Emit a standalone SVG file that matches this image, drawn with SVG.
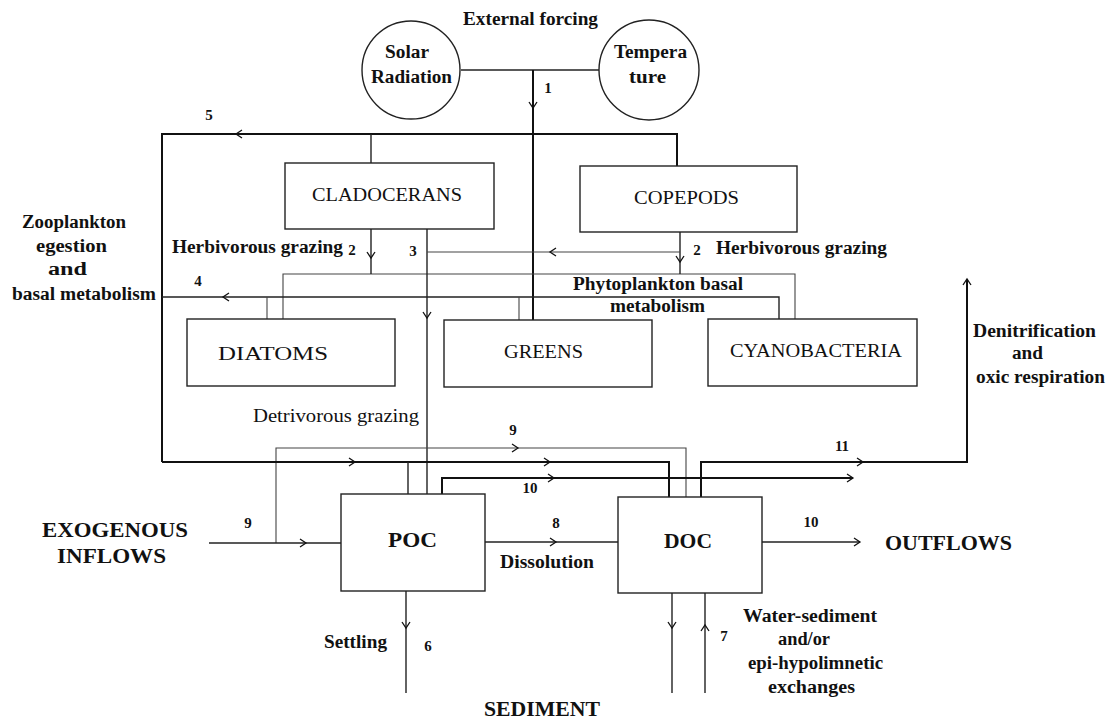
<svg xmlns="http://www.w3.org/2000/svg" xmlns:xlink="http://www.w3.org/1999/xlink" width="1113" height="720" viewBox="0 0 1113 720">
<style>
text{font-family:"Liberation Serif","Times New Roman",serif;fill:#111;}
.b{font-weight:bold;font-size:18px;}
.n{font-weight:bold;font-size:15px;}
.box{font-size:19px;}
.big{font-weight:bold;font-size:22px;}
.c{text-anchor:middle;}
.node rect,.node circle{fill:#fff;stroke:#222;stroke-width:1.4;}
.ln{fill:none;stroke:#222;stroke-width:1.4;}
.lt{fill:none;stroke:#444;stroke-width:1.1;}
.lk{fill:none;stroke:#111;stroke-width:2;}
.ah{fill:none;stroke:#111;stroke-width:1.3;}
</style>
<defs>
<path id="ah" d="M-6,-4 L0,0 L-6,4"/>
</defs>
<rect width="1113" height="720" fill="#fff"/>

<g id="connectors">
<path class="ln" d="M461,70 H599"/>
<path class="lk" d="M533,70 V320"/>
<use href="#ah" class="ah" transform="translate(533,108) rotate(90)"/>
<path class="lk" d="M162,462 V134 H677 V166"/>
<path class="ln" d="M371,134 V163"/>
<use href="#ah" class="ah" transform="translate(236,134) rotate(180)"/>
<path class="lt" d="M283,319 V274 H795 V319"/>
<path class="ln" d="M371,229 V274"/>
<use href="#ah" class="ah" transform="translate(371,258) rotate(90)"/>
<path class="ln" d="M680,232 V274"/>
<use href="#ah" class="ah" transform="translate(680,262) rotate(90)"/>
<path class="ln" d="M427,229 V494"/>
<path class="lt" d="M427,252 H680"/>
<use href="#ah" class="ah" transform="translate(550,252) rotate(180)"/>
<use href="#ah" class="ah" transform="translate(427,318) rotate(90)"/>
<path class="ln" d="M162,297 H779 V319"/>
<path class="lt" d="M267,297 V319"/>
<path class="lt" d="M519,297 V320"/>
<use href="#ah" class="ah" transform="translate(223,297) rotate(180)"/>
<path class="lt" d="M276,543 V448 H686 V497"/>
<use href="#ah" class="ah" transform="translate(518,448)"/>
<path class="lk" d="M162,462 H669 V497"/>
<path class="ln" d="M408,462 V494"/>
<use href="#ah" class="ah" transform="translate(355,462)"/>
<use href="#ah" class="ah" transform="translate(550,462)"/>
<path class="lk" d="M701,497 V462 H967 V279"/>
<use href="#ah" class="ah" transform="translate(863,462)"/>
<use href="#ah" class="ah" transform="translate(967,279) rotate(-90)"/>
<path class="lk" d="M442,494 V478 H853"/>
<use href="#ah" class="ah" transform="translate(554,478)"/>
<use href="#ah" class="ah" transform="translate(853,478)"/>
<path class="ln" d="M209,543 H341"/>
<use href="#ah" class="ah" transform="translate(306,543)"/>
<path class="ln" d="M485,542 H618"/>
<use href="#ah" class="ah" transform="translate(556,542)"/>
<path class="ln" d="M762,542 H860"/>
<use href="#ah" class="ah" transform="translate(860,542)"/>
<path class="ln" d="M406,591 V693"/>
<use href="#ah" class="ah" transform="translate(406,628) rotate(90)"/>
<path class="ln" d="M672,593 V693"/>
<use href="#ah" class="ah" transform="translate(672,628) rotate(90)"/>
<path class="ln" d="M705,693 V593"/>
<use href="#ah" class="ah" transform="translate(705,625) rotate(-90)"/>
</g>

<g id="solar" class="node">
<circle cx="411" cy="70" r="49"/>
<text class="b" x="385" y="58" textLength="44" lengthAdjust="spacingAndGlyphs">Solar</text>
<text class="b" x="371" y="83" textLength="81" lengthAdjust="spacingAndGlyphs">Radiation</text>
</g>
<g id="temperature" class="node">
<circle cx="649" cy="70" r="50"/>
<text class="b" x="614" y="58" textLength="73" lengthAdjust="spacingAndGlyphs">Tempera</text>
<text class="b" x="629" y="83" textLength="37" lengthAdjust="spacingAndGlyphs">ture</text>
</g>
<g id="cladocerans" class="node">
<rect x="285" y="163" width="209" height="66"/>
<text class="box" x="312" y="201" textLength="150" lengthAdjust="spacingAndGlyphs">CLADOCERANS</text>
</g>
<g id="copepods" class="node">
<rect x="580" y="166" width="217" height="66"/>
<text class="box" x="634" y="204" textLength="105" lengthAdjust="spacingAndGlyphs">COPEPODS</text>
</g>
<g id="diatoms" class="node">
<rect x="187" y="319" width="208" height="67"/>
<text class="box" x="218" y="360" textLength="110" lengthAdjust="spacingAndGlyphs">DIATOMS</text>
</g>
<g id="greens" class="node">
<rect x="444" y="320" width="208" height="67"/>
<text class="box" x="504" y="358" textLength="79" lengthAdjust="spacingAndGlyphs">GREENS</text>
</g>
<g id="cyanobacteria" class="node">
<rect x="708" y="319" width="209" height="67"/>
<text class="box" x="730" y="357" textLength="172" lengthAdjust="spacingAndGlyphs">CYANOBACTERIA</text>
</g>
<g id="poc" class="node">
<rect x="341" y="494" width="144" height="97"/>
<text class="big" x="388" y="547" textLength="49" lengthAdjust="spacingAndGlyphs">POC</text>
</g>
<g id="doc" class="node">
<rect x="618" y="497" width="144" height="96"/>
<text class="big" x="664" y="548" textLength="48" lengthAdjust="spacingAndGlyphs">DOC</text>
</g>

<g id="labels">
<text class="b" x="463" y="25" textLength="135" lengthAdjust="spacingAndGlyphs">External forcing</text>
<text class="n c" x="548" y="93">1</text>
<text class="n c" x="209" y="120">5</text>
<text class="b" x="172" y="253" textLength="171" lengthAdjust="spacingAndGlyphs">Herbivorous grazing</text>
<text class="n c" x="352" y="255">2</text>
<text class="n c" x="413" y="256">3</text>
<text class="n c" x="697" y="255">2</text>
<text class="b" x="716" y="254" textLength="171" lengthAdjust="spacingAndGlyphs">Herbivorous grazing</text>
<text class="n c" x="198" y="286">4</text>
<text class="b" x="573" y="290" textLength="170" lengthAdjust="spacingAndGlyphs">Phytoplankton basal</text>
<text class="b" x="610" y="312" textLength="95" lengthAdjust="spacingAndGlyphs">metabolism</text>
<text class="b" x="22" y="228" textLength="104" lengthAdjust="spacingAndGlyphs">Zooplankton</text>
<text class="b" x="36" y="252" textLength="71" lengthAdjust="spacingAndGlyphs">egestion</text>
<text class="b" x="48" y="275" textLength="39" lengthAdjust="spacingAndGlyphs">and</text>
<text class="b" x="12" y="300" textLength="144" lengthAdjust="spacingAndGlyphs">basal metabolism</text>
<text x="253" y="422" font-size="18" textLength="166" lengthAdjust="spacingAndGlyphs">Detrivorous grazing</text>
<text class="n c" x="513" y="435">9</text>
<text class="n c" x="842" y="451">11</text>
<text class="n c" x="530" y="493">10</text>
<text class="b" x="973" y="337" textLength="123" lengthAdjust="spacingAndGlyphs">Denitrification</text>
<text class="b" x="1012" y="359" textLength="31" lengthAdjust="spacingAndGlyphs">and</text>
<text class="b" x="976" y="383" textLength="129" lengthAdjust="spacingAndGlyphs">oxic respiration</text>
<text class="big" x="42" y="537" textLength="146" lengthAdjust="spacingAndGlyphs">EXOGENOUS</text>
<text class="big" x="57" y="563" textLength="109" lengthAdjust="spacingAndGlyphs">INFLOWS</text>
<text class="n c" x="248" y="528">9</text>
<text class="n c" x="556" y="528">8</text>
<text class="b" x="500" y="568" textLength="94" lengthAdjust="spacingAndGlyphs">Dissolution</text>
<text class="n c" x="811" y="527">10</text>
<text class="big" x="885" y="550" textLength="127" lengthAdjust="spacingAndGlyphs">OUTFLOWS</text>
<text class="b" x="324" y="648" textLength="63" lengthAdjust="spacingAndGlyphs">Settling</text>
<text class="n c" x="428" y="651">6</text>
<text class="n c" x="724" y="641">7</text>
<text class="b" x="743" y="622" textLength="134" lengthAdjust="spacingAndGlyphs">Water-sediment</text>
<text class="b" x="778" y="645" textLength="52" lengthAdjust="spacingAndGlyphs">and/or</text>
<text class="b" x="748" y="669" textLength="135" lengthAdjust="spacingAndGlyphs">epi-hypolimnetic</text>
<text class="b" x="768" y="693" textLength="87" lengthAdjust="spacingAndGlyphs">exchanges</text>
<text class="big" x="484" y="716" font-size="20" textLength="116" lengthAdjust="spacingAndGlyphs">SEDIMENT</text>
</g>
</svg>
